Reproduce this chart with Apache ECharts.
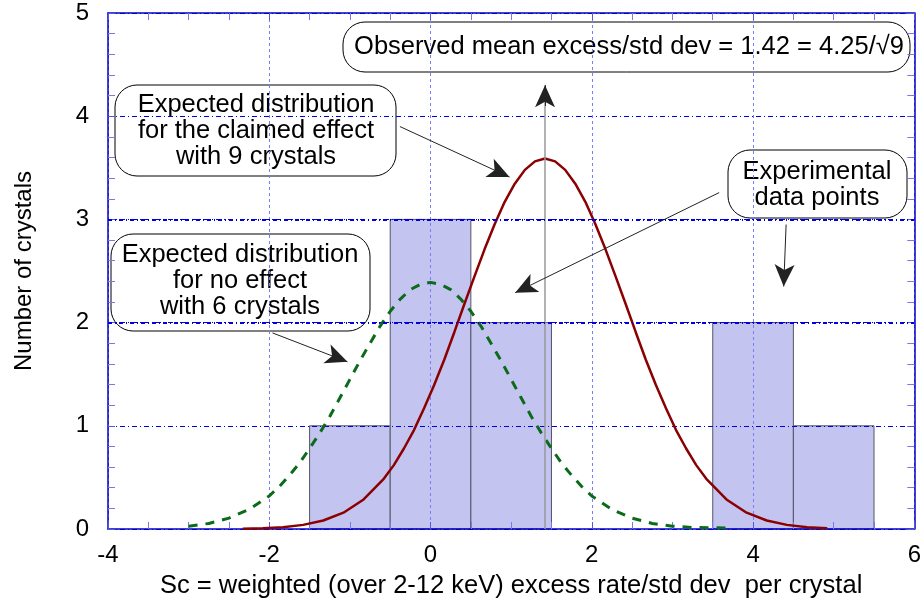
<!DOCTYPE html>
<html>
<head>
<meta charset="utf-8">
<script src="https://cdn.jsdelivr.net/npm/echarts@6/dist/echarts.min.js"></script>
<style>
  html, body { margin: 0; padding: 0; background: #fff; }
  #chart { width: 924px; height: 604px; }
</style>
</head>
<body>
<div id="chart"></div>
<script>
// histogram of the crystals (bin edges and counts)
var binStart = [-1.5, -0.5, 0.5, 3.5, 4.5];
var binEnd = [-0.5, 0.5, 1.5, 4.5, 5.5];
var binCount = [1, 3, 2, 2, 1];

// expected distribution, claimed effect (9 crystals)
var claimedX = [-2.33, -2.08, -1.83, -1.58, -1.33, -1.08, -0.83, -0.58, -0.455, -0.33, -0.205, -0.08, 0.045, 0.17, 0.295, 0.42, 0.545, 0.67, 0.795, 0.92, 1.045, 1.17, 1.295, 1.42,
                1.545, 1.67, 1.795, 1.92, 2.045, 2.17, 2.295, 2.42, 2.545, 2.67, 2.795, 2.92, 3.045, 3.17, 3.295, 3.42, 3.67, 3.92, 4.17, 4.42, 4.67, 4.92];
var claimedY = [0.003, 0.008, 0.018, 0.040, 0.082, 0.158, 0.286, 0.486, 0.619, 0.78, 0.959, 1.17, 1.395, 1.64, 1.907, 2.18, 2.448, 2.71, 2.953, 3.17, 3.346, 3.48, 3.562, 3.59,
                3.562, 3.48, 3.346, 3.17, 2.953, 2.71, 2.448, 2.18, 1.907, 1.64, 1.395, 1.17, 0.959, 0.78, 0.619, 0.486, 0.286, 0.158, 0.082, 0.040, 0.018, 0.008];

// expected distribution, no effect (6 crystals)
var noEffectX = [-3, -2.75, -2.5, -2.25, -2, -1.875, -1.75, -1.625, -1.5, -1.375, -1.25, -1.125, -1, -0.875, -0.75, -0.625, -0.5, -0.375, -0.25, -0.125, 0,
                 0.125, 0.25, 0.375, 0.5, 0.625, 0.75, 0.875, 1, 1.125, 1.25, 1.375, 1.5, 1.625, 1.75, 1.875, 2, 2.25, 2.5, 2.75, 3, 3.25, 3.5, 3.75];
var noEffectY = [0.027, 0.054, 0.105, 0.19, 0.32, 0.412, 0.52, 0.638, 0.78, 0.929, 1.09, 1.269, 1.45, 1.63, 1.80, 1.966, 2.11, 2.228, 2.32, 2.371, 2.39,
                 2.371, 2.32, 2.228, 2.11, 1.966, 1.80, 1.63, 1.45, 1.269, 1.09, 0.929, 0.78, 0.638, 0.52, 0.412, 0.32, 0.19, 0.105, 0.054, 0.027, 0.015, 0.012, 0.01];

// observed mean
var observedMean = 1.42;
var boldGridY = [2, 3];

var fontName = 'Liberation Sans, Arial, sans-serif';

var histData = [];
for (var i = 0; i < binCount.length; i++) {
    histData.push([binStart[i], binEnd[i], binCount[i]]);
}
function pairs(xs, ys) {
    var out = [];
    for (var i = 0; i < xs.length; i++) out.push([xs[i], ys[i]]);
    return out;
}

// arrows in data units: [from, to]
var arrows = [
    [[-0.38, 3.90], [0.98, 3.41]],
    [[3.58, 3.26], [1.05, 2.29]],
    [[4.41, 2.95], [4.38, 2.35]],
    [[-1.96, 1.90], [-1.03, 1.62]]
];

var chart = echarts.init(document.getElementById('chart'));

function xAx(pos) {
    return {
        type: 'value', min: -4, max: 6, interval: 2, position: pos,
        axisLine: { show: true, onZero: false, lineStyle: { color: '#0000cc', width: 1.5 } },
        axisTick: { show: true, inside: true, length: 7, lineStyle: { color: '#5555dd' } },
        minorTick: { show: true, splitNumber: 4, length: 7, lineStyle: { color: '#7777ee' } },
        axisLabel: { show: pos === 'bottom', color: '#000', fontSize: 24, fontFamily: fontName, margin: 14 },
        splitLine: { show: pos === 'bottom', lineStyle: { color: '#7a7aff', type: [3, 3], width: 1 } },
        name: pos === 'bottom' ? 'Sc = weighted (over 2-12 keV) excess rate/std dev  per crystal' : '',
        nameLocation: 'middle', nameGap: 44,
        nameTextStyle: { color: '#000', fontSize: 25.5, fontFamily: fontName }
    };
}
function yAx(pos) {
    return {
        type: 'value', min: 0, max: 5, interval: 1, position: pos,
        axisLine: { show: true, onZero: false, lineStyle: { color: '#0000cc', width: 1.5 } },
        axisTick: { show: true, inside: true, length: 7, lineStyle: { color: '#5555dd' } },
        minorTick: { show: true, splitNumber: 5, length: 7, lineStyle: { color: '#7777ee' } },
        axisLabel: { show: pos === 'left', color: '#000', fontSize: 24, fontFamily: fontName, margin: 19 },
        splitLine: { show: pos === 'left', lineStyle: { color: '#0000dd', type: [5, 3, 1, 3], width: 1.2 } },
        name: pos === 'left' ? 'Number of crystals' : '',
        nameLocation: 'middle', nameGap: 72, nameRotate: 90,
        nameTextStyle: { color: '#000', fontSize: 24, fontFamily: fontName }
    };
}

function box(x, y, w, h, cx, cy, text) {
    return {
        type: 'group',
        children: [{
            type: 'rect',
            shape: { x: x, y: y, width: w, height: h, r: 22 },
            style: { fill: '#fff', stroke: '#000', lineWidth: 1 }
        }, {
            type: 'text',
            style: {
                x: cx, y: cy, text: text, align: 'center', verticalAlign: 'middle',
                font: '25.5px ' + fontName, lineHeight: 26, fill: '#000'
            }
        }]
    };
}

var arrowData = arrows.map(function (a) {
    return [{ coord: a[0] }, { coord: a[1] }];
});

chart.setOption({
    animation: false,
    grid: { left: 108, right: 8, top: 13, bottom: 75 },
    xAxis: [xAx('bottom'), xAx('top')],
    yAxis: [yAx('left'), yAx('right')],
    series: [{
        type: 'custom',
        z: -1,
        data: histData,
        encode: { x: [0, 1], y: 2 },
        renderItem: function (params, api) {
            var p0 = api.coord([api.value(0), api.value(2)]);
            var p1 = api.coord([api.value(1), 0]);
            return {
                type: 'rect',
                shape: { x: p0[0], y: p0[1], width: p1[0] - p0[0], height: p1[1] - p0[1] },
                style: { fill: '#c4c4f1', stroke: '#555566', lineWidth: 1 }
            };
        }
    }, {
        type: 'line',
        data: pairs(noEffectX, noEffectY),
        showSymbol: false,
        lineStyle: { color: '#0b6b1a', width: 3, type: [9, 8] }
    }, {
        type: 'line',
        data: pairs(claimedX, claimedY),
        showSymbol: false,
        lineStyle: { color: '#8b0000', width: 2.5 }
    }, {
        type: 'line',
        data: [[observedMean, 0]],
        showSymbol: false,
        silent: true,
        lineStyle: { opacity: 0 },
        markLine: {
            silent: true,
            animation: false,
            label: { show: false },
            symbol: ['none', 'none'],
            data: [
                [{ coord: [observedMean, 0], lineStyle: { color: '#999', width: 1.5, type: 'solid' } },
                 { coord: [observedMean, 4.3] }]
            ].concat(boldGridY.map(function (v) {
                return [{ coord: [-4, v], lineStyle: { color: '#0000dd', width: 2.2, type: [4, 3, 1, 3] } },
                        { coord: [6, v] }];
            }))
        }
    }, {
        type: 'line',
        data: [[observedMean, 0]],
        showSymbol: false,
        silent: true,
        lineStyle: { opacity: 0 },
        markLine: {
            silent: true,
            animation: false,
            label: { show: false },
            symbol: ['none', 'arrow'],
            symbolSize: [15, 22],
            lineStyle: { color: '#222', width: 1, type: 'solid' },
            data: arrowData.concat([[{ coord: [observedMean, 4.1] }, { coord: [observedMean, 4.3] }]])
        }
    }],
    graphic: [
        box(115, 85, 281, 91, 256, 131, 'Expected distribution\nfor the claimed effect\nwith 9 crystals'),
        box(343, 22, 567, 50, 629, 47, 'Observed mean excess/std dev = 1.42 = 4.25/\u221A9'),
        box(728, 150, 179, 68, 817, 185, 'Experimental\ndata points'),
        box(111, 234, 259, 97, 240, 281, 'Expected distribution\nfor no effect\nwith 6 crystals')
    ]
});
</script>
</body>
</html>
